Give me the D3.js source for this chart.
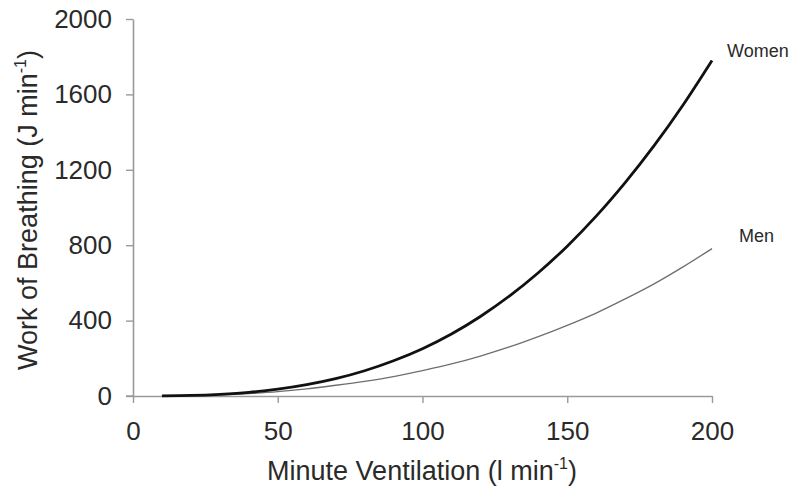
<!DOCTYPE html>
<html>
<head>
<meta charset="utf-8">
<script src="https://cdn.jsdelivr.net/npm/d3@7"></script>
<style>
  html, body { margin: 0; padding: 0; background: #fff; }
  svg { display: block; }
  text { font-family: "Liberation Sans", Arial, Helvetica, sans-serif; fill: #2a2a2a; }
</style>
</head>
<body>
<svg id="chart" width="800" height="498"></svg>
<script>
// Data
const ventilation = [10, 20, 30, 40, 50, 60, 70, 80, 90, 100, 110, 120, 130, 140, 150, 160, 170, 180, 190, 200];
const women = [1, 3, 9, 19, 36, 60, 92, 134, 187, 251, 329, 422, 530, 654, 795, 954, 1132, 1328, 1544, 1780];
const men   = [0.4, 2, 6, 13, 23, 38, 57, 78, 103, 135, 170, 212, 260, 315, 375, 440, 515, 595, 685, 782];
const xTicks = [0, 50, 100, 150, 200];
const yTicks = [0, 400, 800, 1200, 1600, 2000];
const seriesLabels = ["Women", "Men"];

const svg = d3.select("#chart");
const x = d3.scaleLinear().domain([0, 200]).range([133, 712]);
const y = d3.scaleLinear().domain([0, 2000]).range([396, 19]);
const axisColor = "#9a9a9a";
const fmt = d3.format("d");

// Y axis
const yAxis = svg.append("g").attr("transform", "translate(133,0)")
  .call(d3.axisLeft(y).tickValues(yTicks).tickFormat(fmt).tickSize(7).tickPadding(14).tickSizeOuter(0));
// X axis
const xAxis = svg.append("g").attr("transform", "translate(0,396)")
  .call(d3.axisBottom(x).tickValues(xTicks).tickFormat(fmt).tickSize(7).tickPadding(19).tickSizeOuter(0));

[xAxis, yAxis].forEach(g => {
  g.selectAll(".domain").attr("stroke", axisColor).attr("stroke-width", 1.6);
  g.selectAll(".tick line").attr("stroke", axisColor).attr("stroke-width", 1.4);
  g.selectAll(".tick text").attr("font-size", 26).attr("fill", "#2a2a2a")
    .attr("font-family", "'Liberation Sans', Arial, Helvetica, sans-serif");
});
// extend x-axis line left to meet the y tick at 0
svg.append("line").attr("x1", 126).attr("x2", 133).attr("y1", 396).attr("y2", 396)
  .attr("stroke", axisColor).attr("stroke-width", 1.4);

// Lines
const line = vals => d3.line().x((d, i) => x(ventilation[i])).y(d => y(d)).curve(d3.curveCatmullRom)(vals);
svg.append("path").attr("d", line(men)).attr("fill", "none").attr("stroke", "#6e6e6e").attr("stroke-width", 1.3);
svg.append("path").attr("d", line(women)).attr("fill", "none").attr("stroke", "#111").attr("stroke-width", 2.8);

// Series labels
svg.append("text").attr("x", x(200) + 15).attr("y", y(women[women.length - 1]) - 3)
  .attr("font-size", 18).text(seriesLabels[0]);
svg.append("text").attr("x", x(200) + 27).attr("y", y(men[men.length - 1]) - 7)
  .attr("font-size", 18).text(seriesLabels[1]);

// Axis titles
const xt = svg.append("text").attr("x", 422).attr("y", 480).attr("text-anchor", "middle").attr("font-size", 27);
xt.append("tspan").text("Minute Ventilation (l min");
xt.append("tspan").attr("font-size", 16).attr("dy", -11).text("-1");
xt.append("tspan").attr("dy", 11).text(")");

const yt = svg.append("text").attr("transform", "translate(37,210) rotate(-90)").attr("text-anchor", "middle").attr("font-size", 27);
yt.append("tspan").text("Work of Breathing (J min");
yt.append("tspan").attr("font-size", 16).attr("dy", -11).text("-1");
yt.append("tspan").attr("dy", 11).text(")");
</script>
</body>
</html>
